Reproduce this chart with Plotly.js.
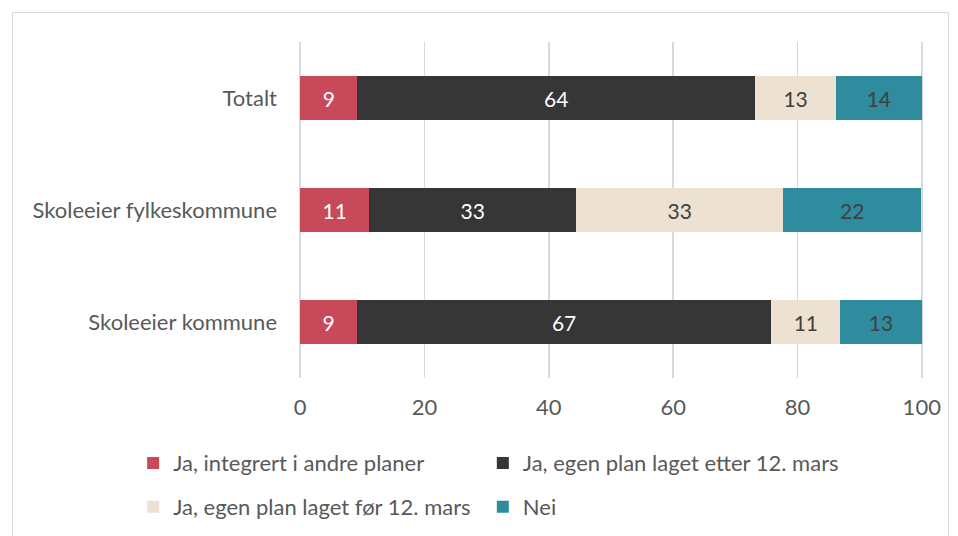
<!DOCTYPE html>
<html>
<head>
<meta charset="utf-8">
<script src="https://cdn.plot.ly/plotly-3.0.1.min.js"></script>
<style>
  html, body { margin: 0; padding: 0; background: #fff; }
  #frame { position: absolute; left: 12px; top: 12px; width: 937px; height: 540px; border: 1px solid #d9d9d9; box-sizing: border-box; }
  #chart { position: absolute; left: 0; top: 0; width: 958px; height: 536px; }
</style>
</head>
<body>
<div id="frame"></div>
<div id="chart"></div>
<script>
const categories = ["Totalt", "Skoleeier fylkeskommune", "Skoleeier kommune"];
const seriesNames = ["Ja, integrert i andre planer", "Ja, egen plan laget etter 12. mars", "Ja, egen plan laget før 12. mars", "Nei"];
const integrert = [9.2, 11.1, 9.1];
const etter = [64.0, 33.3, 66.7];
const foer = [13.0, 33.3, 11.1];
const nei = [13.8, 22.2, 13.1];
const xTicks = [0, 20, 40, 60, 80, 100];

const colors = ["#c8495a", "#363636", "#ede1d1", "#2e8c9e"];
const textColors = ["#ffffff", "#ffffff", "#404040", "#404040"];
const values = [integrert, etter, foer, nei];
const FONT = "Lato, 'Open Sans', sans-serif";

// legend placement (container fractions) for each series
const legendPos = [
  { x: 0.139, y: 0.136 },
  { x: 0.504, y: 0.136 },
  { x: 0.139, y: 0.054 },
  { x: 0.504, y: 0.054 }
];
const legendIds = ["legend", "legend2", "legend3", "legend4"];

const traces = values.map((v, i) => ({
  type: "bar",
  orientation: "h",
  name: seriesNames[i],
  y: categories,
  x: v,
  marker: { color: colors[i], line: { width: 0 } },
  text: v.map(d => Math.round(d).toString()),
  textposition: "inside",
  insidetextanchor: "middle",
  textfont: { family: FONT, size: 21, color: textColors[i] },
  hoverinfo: "skip",
  legend: legendIds[i]
}));

const layout = {
  width: 958,
  height: 536,
  barmode: "stack",
  bargap: 0.6,
  paper_bgcolor: "rgba(0,0,0,0)",
  plot_bgcolor: "rgba(0,0,0,0)",
  margin: { l: 299, r: 35, t: 42, b: 158 },
  font: { family: FONT, color: "#595959", size: 22 },
  xaxis: {
    range: [-0.2, 100.2],
    tickvals: xTicks,
    ticktext: xTicks.map(String),
    showgrid: true,
    gridcolor: "#d9d9d9",
    gridwidth: 1.5,
    zeroline: false,
    showline: false,
    ticks: "",
    ticklabelstandoff: 14,
    tickfont: { size: 22, color: "#595959" },
    fixedrange: true
  },
  yaxis: {
    autorange: "reversed",
    showgrid: false,
    showline: false,
    zeroline: false,
    ticks: "",
    ticklabelstandoff: 21,
    tickfont: { size: 22, color: "#595959" },
    fixedrange: true
  },
  showlegend: true
};

legendIds.forEach((id, i) => {
  layout[id] = {
    orientation: "h",
    x: legendPos[i].x, xref: "container",
    y: legendPos[i].y, yref: "container",
    xanchor: "left", yanchor: "middle",
    font: { size: 22, color: "#595959" },
    itemwidth: 30,
    itemclick: false, itemdoubleclick: false
  };
});

Plotly.newPlot("chart", traces, layout, { displayModeBar: false, staticPlot: true });
</script>
</body>
</html>
